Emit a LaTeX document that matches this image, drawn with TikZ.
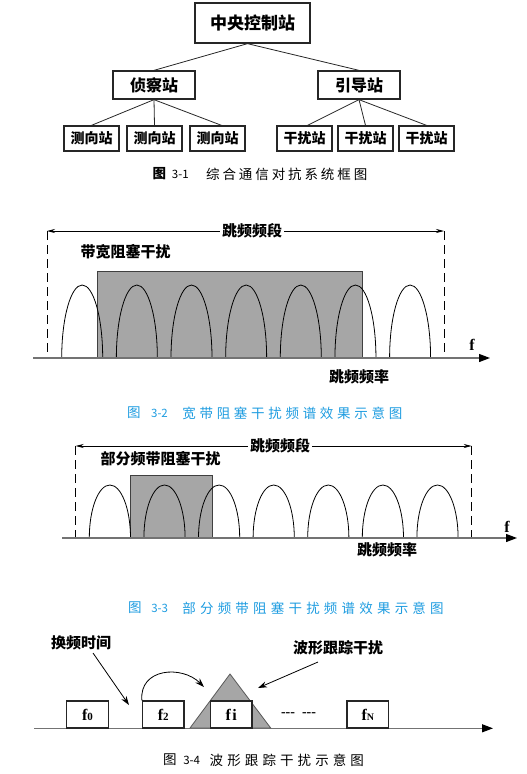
\documentclass[tikz,border=0pt]{standalone}
\usepackage{fontspec}
\newfontfamily\cjk{Noto Sans CJK SC}
\newfontfamily\lserif{Liberation Serif}
\usetikzlibrary{arrows.meta}
\definecolor{capblue}{HTML}{1E9CE0}
\definecolor{jamgray}{HTML}{A6A6A6}
\makeatletter
\newcommand\spacedtext[2]{\@tfor\mychar:=#2\do{\mychar\hspace{#1}}\unskip}
\makeatother
\tikzset{
  lbl/.style={font=\cjk\bfseries\fontsize{15}{15}\selectfont, inner sep=0pt},
  captxt/.style={font=\cjk\fontsize{13.5}{13.5}\selectfont, inner sep=0pt, anchor=west},
  capnum/.style={font=\cjk\fontsize{11.5}{11.5}\selectfont, inner sep=0pt},
  stbox/.style={draw=black!85, line width=1.3pt, fill=white, inner sep=0pt},
  link/.style={draw=black!85, line width=0.8pt},
  axis/.style={draw=black!55, line width=1.2pt, -{Triangle[length=11pt,width=8pt,color=black]}},
  lobe/.style={draw=black, line width=0.8pt},
  jam/.style={fill=jamgray, draw=black!75, line width=0.8pt},
  bound/.style={draw=black, line width=0.8pt, dash pattern=on 9pt off 5pt},
  span/.style={draw=black, line width=0.7pt, {Stealth[length=8pt,width=4pt]}-{Stealth[length=8pt,width=4pt]}},
  pointer/.style={draw=black, line width=0.8pt, -{Stealth[length=9pt,width=6pt]}},
  fbox/.style={stbox, minimum width=41.5pt, minimum height=27pt, font=\lserif\bfseries\fontsize{16}{16}\selectfont},
  axlabel/.style={font=\lserif\bfseries\fontsize{16}{16}\selectfont, inner sep=0pt},
}
\begin{document}
\begin{tikzpicture}[x=1pt,y=-1pt]
\useasboundingbox (0,0) rectangle (527,774);

% ---------- Figure 3-1 ----------
\node[stbox, minimum width=115pt, minimum height=40pt, font=\cjk\bfseries\fontsize{17}{17}\selectfont] (top) at (252.5,23) {中央控制站};
\node[stbox, minimum width=82pt, minimum height=28pt, font=\cjk\bfseries\fontsize{16}{16}\selectfont] (zc) at (154,85) {侦察站};
\node[stbox, minimum width=82pt, minimum height=28pt, font=\cjk\bfseries\fontsize{16}{16}\selectfont] (yd) at (359,85) {引导站};
\foreach \n/\x/\t in {c1/91.5/测向站, c2/154.5/测向站, c3/217.5/测向站, g1/304.5/干扰站, g2/365.5/干扰站, g3/426.5/干扰站}
  \node[stbox, minimum width=55pt, minimum height=25pt, font=\cjk\bfseries\fontsize{14}{14}\selectfont] (\n) at (\x,138.5) {\t};
\draw[link] ([xshift=-5pt]top.south) -- (zc.north);
\draw[link] ([xshift=-5pt]top.south) -- (yd.north);
\draw[link] (zc.south) -- (c1.north);
\draw[link] (zc.south) -- (c2.north);
\draw[link] (zc.south) -- ([xshift=4pt]c3.north);
\draw[link] (yd.south) -- ([xshift=3pt]g1.north);
\draw[link] (yd.south) -- (g2.north);
\draw[link] (yd.south) -- (g3.north);
\node[captxt, font=\cjk\bfseries\fontsize{13.5}{13.5}\selectfont] (cap1a) at (152.5,174) {图};
\node[capnum] (cap1b) at (180.3,174) {3-1};
\node[captxt] (cap1c) at (206,174) {\spacedtext{2.9pt}{综合通信对抗系统框图}};

% ---------- Figure 3-2 ----------
\draw[bound] (47,231) -- (47,358);
\draw[bound] (444,231) -- (444,358);
\draw[jam] (97,271) rectangle (362,358);
\foreach \c in {0,...,6}
  \draw[lobe] ({61.7+54.65*\c},358) arc[start angle=180, end angle=360, x radius=20.5, y radius=73];
\draw[axis] (33,358) -- (490,358);
\draw[span] (47,231) -- (444,231);
\node[lbl, fill=white, inner xsep=2pt] (band2) at (252,231) {跳频频段};
\node[lbl] (jam2) at (125.5,252) {带宽阻塞干扰};
\node[axlabel] (f2) at (472,345) {f};
\node[lbl] (rate2) at (359,377) {跳频频率};
\node[captxt, text=capblue] (cap2a) at (126.8,413) {图};
\node[capnum, text=capblue] (cap2b) at (159.5,413) {3-2};
\node[captxt, text=capblue] (cap2c) at (182.2,413) {\spacedtext{3.7pt}{宽带阻塞干扰频谱效果示意图}};

% ---------- Figure 3-3 ----------
\draw[bound] (75.7,446) -- (75.7,538);
\draw[bound] (471.7,446) -- (471.7,538);
\draw[jam] (130.7,475.7) rectangle (212.3,538);
\foreach \c in {0,...,6}
  \draw[lobe] ({89.3+54.6*\c},538) arc[start angle=180, end angle=360, x radius=20.6, y radius=53];
\draw[axis] (62,538) -- (517,538);
\draw[span] (75.7,446) -- (471.7,446);
\node[lbl, fill=white, inner xsep=2pt] (band3) at (280,446) {跳频频段};
\node[lbl] (jam3) at (160.5,459) {部分频带阻塞干扰};
\node[axlabel] (f3) at (507,527) {f};
\node[lbl] (rate3) at (387,550) {跳频频率};
\node[captxt, text=capblue] (cap3a) at (127.8,608) {图};
\node[capnum, text=capblue] (cap3b) at (159.7,608) {3-3};
\node[captxt, text=capblue] (cap3c) at (182.2,608) {\spacedtext{4.2pt}{部分频带阻塞干扰频谱效果示意图}};

% ---------- Figure 3-4 ----------
\draw[axis] (34,728.3) -- (493,728.3);
\draw[jam, draw=black!65] (190,728) -- (230,674) -- (270.7,728) -- cycle;
\node[fbox] (b0) at (87.5,714.5) {f{\fontsize{11}{11}\selectfont 0}};
\node[fbox] (b2) at (163.3,714.5) {f{\fontsize{11}{11}\selectfont 2}};
\node[fbox] (bi) at (231.2,714.5) {f\kern1.5pt i};
\node[fbox] (bn) at (367.8,714.5) {f{\fontsize{10}{10}\selectfont N}};
\node[font=\lserif\bfseries\fontsize{14}{14}\selectfont, inner sep=0pt] (dots) at (298.5,715) {\mbox{-}\mbox{-}\mbox{-}\hspace{7pt}\mbox{-}\mbox{-}\mbox{-}};
\draw[pointer] (b2.north west) .. controls (139,668) and (182,665) .. (204,687);
\node[lbl] (hp) at (81,643) {换频时间};
\coordinate (hps) at (93,653);
\coordinate (hpe) at (129,705);
\draw[pointer] (hps) -- (hpe);
\node[lbl] (bx) at (338,648) {波形跟踪干扰};
\coordinate (bxs) at (318,662);
\coordinate (bxe) at (258,688);
\draw[pointer] (bxs) -- (bxe);
\node[captxt] (cap4a) at (162.8,760) {图};
\node[capnum] (cap4b) at (191.7,760) {3-4};
\node[captxt] (cap4c) at (209.5,760) {\spacedtext{4.1pt}{波形跟踪干扰示意图}};
\end{tikzpicture}
\end{document}
